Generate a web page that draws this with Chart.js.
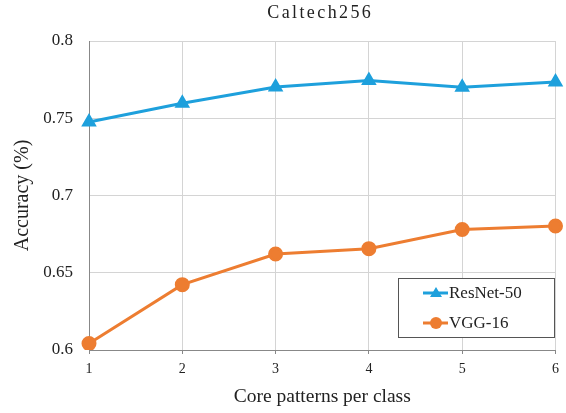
<!DOCTYPE html>
<html><head><meta charset="utf-8">
<script src="https://cdn.jsdelivr.net/npm/chart.js@4/dist/chart.umd.min.js"></script>
<style>html,body{margin:0;padding:0;background:#fff}#wrap{width:566px;height:413px}</style>
</head><body><div id="wrap"><canvas id="c" width="566" height="413"></canvas></div>
<script>
const categories = [1, 2, 3, 4, 5, 6];
const resnet50 = [0.7476, 0.7597, 0.7702, 0.7745, 0.7700, 0.7735];
const vgg16 = [0.6042, 0.6423, 0.6621, 0.6656, 0.6780, 0.6803];
const yTicks = [0.6, 0.65, 0.7, 0.75, 0.8];
const seriesNames = ['ResNet-50', 'VGG-16'];
const titleText = 'Caltech256';

const FONT = '"Liberation Serif", "Times New Roman", serif';
const BLUE = '#1ea0dc';
const ORANGE = '#ed7d31';

const titlePlugin = {
  id: 'spacedTitle',
  afterDraw(chart) {
    const ctx = chart.ctx, a = chart.chartArea;
    ctx.save();
    ctx.font = '18px ' + FONT;
    ctx.fillStyle = '#222';
    ctx.letterSpacing = '2.4px';
    ctx.textAlign = 'center';
    ctx.textBaseline = 'middle';
    ctx.fillText(titleText, (a.left + a.right) / 2 - 2, 13);
    ctx.restore();
  }
};

const legendPlugin = {
  id: 'insideLegend',
  afterDraw(chart) {
    const ctx = chart.ctx;
    const x0 = 398, y0 = 278, w = 156, h = 59;
    ctx.save();
    ctx.fillStyle = '#fff';
    ctx.fillRect(x0, y0, w, h);
    ctx.strokeStyle = '#555';
    ctx.lineWidth = 1;
    ctx.strokeRect(x0 + 0.5, y0 + 0.5, w, h);
    const rows = [
      {name: seriesNames[0], color: BLUE, style: 'triangle', y: y0 + 15},
      {name: seriesNames[1], color: ORANGE, style: 'circle', y: y0 + 45}
    ];
    ctx.font = '17px ' + FONT;
    ctx.textBaseline = 'middle';
    rows.forEach(r => {
      ctx.strokeStyle = r.color; ctx.lineWidth = 3;
      ctx.beginPath(); ctx.moveTo(x0 + 25, r.y); ctx.lineTo(x0 + 50, r.y); ctx.stroke();
      ctx.fillStyle = r.color;
      ctx.beginPath();
      if (r.style === 'circle') { ctx.arc(x0 + 38, r.y, 6, 0, Math.PI * 2); }
      else { ctx.moveTo(x0 + 38, r.y - 6); ctx.lineTo(x0 + 44, r.y + 4); ctx.lineTo(x0 + 32, r.y + 4); ctx.closePath(); }
      ctx.fill();
      ctx.fillStyle = '#222';
      ctx.fillText(r.name, x0 + 51, r.y + 1);
    });
    ctx.restore();
  }
};

new Chart(document.getElementById('c'), {
  type: 'line',
  data: {
    labels: categories,
    datasets: [
      {label: seriesNames[0], data: resnet50, borderColor: BLUE, backgroundColor: BLUE,
       borderWidth: 3, pointStyle: 'triangle', pointRadius: 6, pointHoverRadius: 6, tension: 0},
      {label: seriesNames[1], data: vgg16, borderColor: ORANGE, backgroundColor: ORANGE,
       borderWidth: 3, pointStyle: 'circle', pointRadius: 6, pointHoverRadius: 6, tension: 0}
    ]
  },
  options: {
    responsive: false,
    animation: false,
    events: [],
    layout: {padding: {top: 41, right: 7, left: 0, bottom: 0}},
    plugins: {legend: {display: false}, title: {display: false}, tooltip: {enabled: false}},
    scales: {
      x: {
        type: 'category',
        offset: false,
        grid: {color: '#d4d4d4', tickLength: 4, tickColor: '#888'},
        border: {color: '#888', width: 1},
        ticks: {color: '#222', font: {family: FONT, size: 14}, padding: 7},
        title: {display: true, text: 'Core patterns per class', color: '#222', font: {family: FONT, size: 19.5}, padding: {top: 2}},
        afterFit(s) { s.height = 63; }
      },
      y: {
        min: 0.6, max: 0.8,
        afterBuildTicks(s) { s.ticks = yTicks.map(v => ({value: v})); },
        grid: {color: '#d4d4d4', tickLength: 0, tickColor: '#888'},
        border: {color: '#888', width: 1},
        ticks: {color: '#222', font: {family: FONT, size: 17}, padding: 16,
          callback: v => String(Number(v.toFixed(2)))},
        title: {display: true, text: 'Accuracy (%)', color: '#222', font: {family: FONT, size: 20}, padding: {top: 11, bottom: 0}},
        afterFit(s) { s.width = 89; }
      }
    }
  },
  plugins: [titlePlugin, legendPlugin]
});
</script></body></html>
